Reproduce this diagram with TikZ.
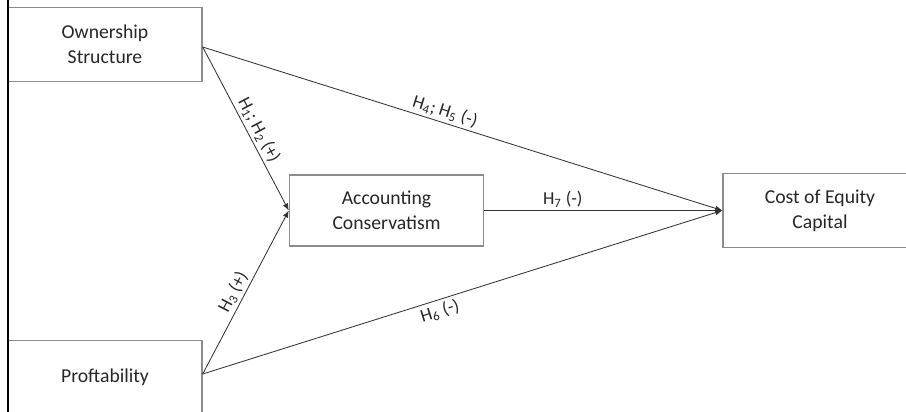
\documentclass[tikz,border=0pt]{standalone}
\usepackage{fontspec}
\setmainfont{Carlito}
\usetikzlibrary{arrows.meta}
\tikzset{
  var/.style={draw=black!45, line width=1pt, minimum width=194*0.025cm, minimum height=74*0.025cm, align=center, text=black!85, font=\fontsize{14}{18}\selectfont},
  arrow/.style={-{Latex[length=5pt,width=4pt]}, draw=black!80, line width=0.6pt},
  hyp/.style={font=\fontsize{13}{15}\selectfont, text=black!85, sloped, inner sep=2pt}
}

\begin{document}
\begin{tikzpicture}[x=0.025cm, y=-0.025cm]
  \useasboundingbox (0,0) rectangle (906,412);
  \clip (0,0) rectangle (906,412);
  \node[var] (own) at (105,44.5) {Ownership\\Structure};
  \node[var] (prof) at (105,377.5) {Proftability};
  \node[var, minimum height=71*0.025cm] (acc) at (386.5,210.5) {Accounting\\Conservatism};
  \node[var] (coe) at (820,210.5) {Cost of Equity\\Capital};
  \coordinate (top) at (8,0);
  \coordinate (bot) at (8,412);
  \draw[line width=0.8pt] (top) -- (bot);
  % paths into the mediator and the outcome
  \draw[arrow] ([yshift=-2.5*0.025cm]own.east) -- node[hyp, above, pos=0.54] {H\textsubscript{1}; H\textsubscript{2} (+)} (acc.west);
  \draw[arrow] ([yshift=-2.5*0.025cm]own.east) -- node[hyp, above, pos=0.46] {H\textsubscript{4}; H\textsubscript{5} (-)} (coe.west);
  \draw[arrow] (acc.east) -- node[hyp, above, pos=0.33] {H\textsubscript{7} (-)} (coe.west);
  \draw[arrow] ([yshift=3.5*0.025cm]prof.east) -- node[hyp, above, pos=0.47] {H\textsubscript{3} (+)} (acc.west);
  \draw[arrow] ([yshift=3.5*0.025cm]prof.east) -- node[hyp, below, pos=0.45] {H\textsubscript{6} (-)} (coe.west);
\end{tikzpicture}
\end{document}
